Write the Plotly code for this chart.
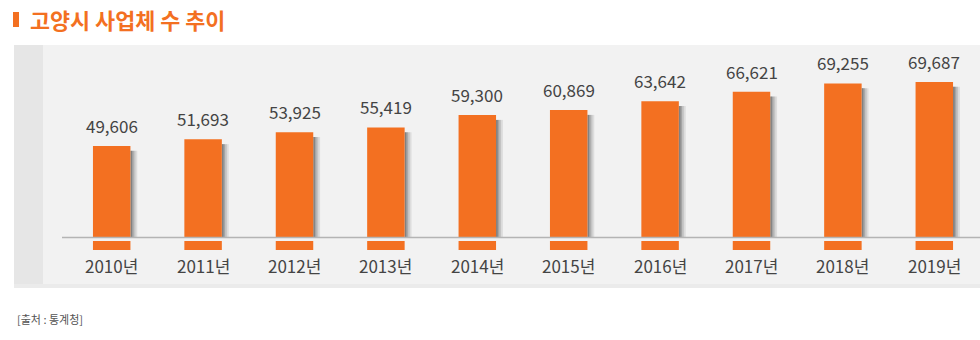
import plotly.graph_objects as go

years = ["2010년", "2011년", "2012년", "2013년", "2014년", "2015년", "2016년", "2017년", "2018년", "2019년"]
values = [49606, 51693, 53925, 55419, 59300, 60869, 63642, 66621, 69255, 69687]

title_text = "고양시 사업체 수 추이"
source_text = "[출처 : 통계청]"

ORANGE = "#f37021"
TEXT = "#444444"
FONT = "Noto Sans CJK KR"

W, H = 980, 340
ML, MR, MT, MB = 66, 0, 45, 55
PW, PH = W - ML - MR, H - MT - MB

Y_MIN, Y_MAX = 6000, 81300
BASE = 17000
BREAK_TOP, BREAK_BOT, BREAK_LINE = 21000, 19800, 20900

def px_x(px):
    return (px - ML) / PW

def px_y(py):
    return (H - MB - py) / PH

xs = list(range(len(values)))
BW = 0.41
SHADOW_DROP = 1500

fig = go.Figure()
# soft shadows on the right side of each bar (layered for a fading look)
for w, a in [(0.075, 0.10), (0.055, 0.14), (0.035, 0.20), (0.018, 0.28)]:
    fig.add_trace(go.Bar(x=xs, y=[v - SHADOW_DROP - BREAK_TOP for v in values], base=BREAK_TOP,
                         width=w, offset=BW / 2, marker=dict(color=f"rgba(40,40,40,{a})", line=dict(width=0)),
                         hoverinfo="skip"))
fig.add_trace(go.Bar(x=xs, y=[v - BASE for v in values], base=BASE,
                     width=BW, offset=-BW / 2, marker=dict(color=ORANGE, line=dict(width=0)),
                     hoverinfo="skip"))

annotations = []
for i, v in enumerate(values):
    annotations.append(dict(x=i, y=v, xref="x", yref="y", text=f"{v:,}", showarrow=False,
                            yanchor="bottom", yshift=6,
                            font=dict(family=FONT, size=17, color=TEXT)))
    annotations.append(dict(x=i, y=BASE, xref="x", yref="y", text=years[i], showarrow=False,
                            yanchor="top", yshift=-1,
                            font=dict(family=FONT, size=17, color=TEXT)))

annotations.append(dict(x=px_x(28), y=px_y(20), xref="paper", yref="paper", text=f"<b>{title_text}</b>",
                        showarrow=False, xanchor="left", yanchor="middle",
                        font=dict(family=FONT, size=21.8, color=ORANGE)))
annotations.append(dict(x=px_x(15), y=px_y(319), xref="paper", yref="paper", text=source_text,
                        showarrow=False, xanchor="left", yanchor="middle",
                        font=dict(family=FONT, size=11, color="#555555")))

shapes = [
    # panel soft shadow
    dict(type="rect", xref="paper", yref="paper", x0=px_x(14), x1=1.0, y0=px_y(288), y1=px_y(46),
         fillcolor="#ebebeb", line=dict(width=0), layer="below"),
    dict(type="rect", xref="paper", yref="paper", x0=px_x(14), x1=px_x(43), y0=px_y(284), y1=1,
         fillcolor="#e6e6e6", line=dict(width=0), layer="below"),
    dict(type="rect", xref="paper", yref="paper", x0=px_x(43), x1=1.0, y0=px_y(284), y1=1,
         fillcolor="#f2f2f2", line=dict(width=0), layer="below"),
    # axis break band
    dict(type="rect", xref="paper", yref="y", x0=px_x(62), x1=1.0, y0=BREAK_BOT, y1=BREAK_TOP,
         fillcolor="#f2f2f2", line=dict(width=0), layer="above"),
    dict(type="line", xref="paper", yref="y", x0=px_x(62), x1=1.0, y0=BREAK_LINE, y1=BREAK_LINE,
         line=dict(color="#b4b4b4", width=1.5), layer="above"),
    # title marker
    dict(type="rect", xref="paper", yref="paper", x0=px_x(13), x1=px_x(19), y0=px_y(27), y1=px_y(12),
         fillcolor=ORANGE, line=dict(width=0)),
]

fig.update_layout(
    width=W, height=H,
    margin=dict(l=ML, r=MR, t=MT, b=MB, pad=0),
    paper_bgcolor="white", plot_bgcolor="rgba(0,0,0,0)",
    barmode="overlay", showlegend=False,
    xaxis=dict(range=[-0.5, len(values) - 0.5], visible=False, fixedrange=True),
    yaxis=dict(range=[Y_MIN, Y_MAX], visible=False, fixedrange=True),
    annotations=annotations, shapes=shapes,
)

fig.write_html("out.html", config={"displayModeBar": False})
